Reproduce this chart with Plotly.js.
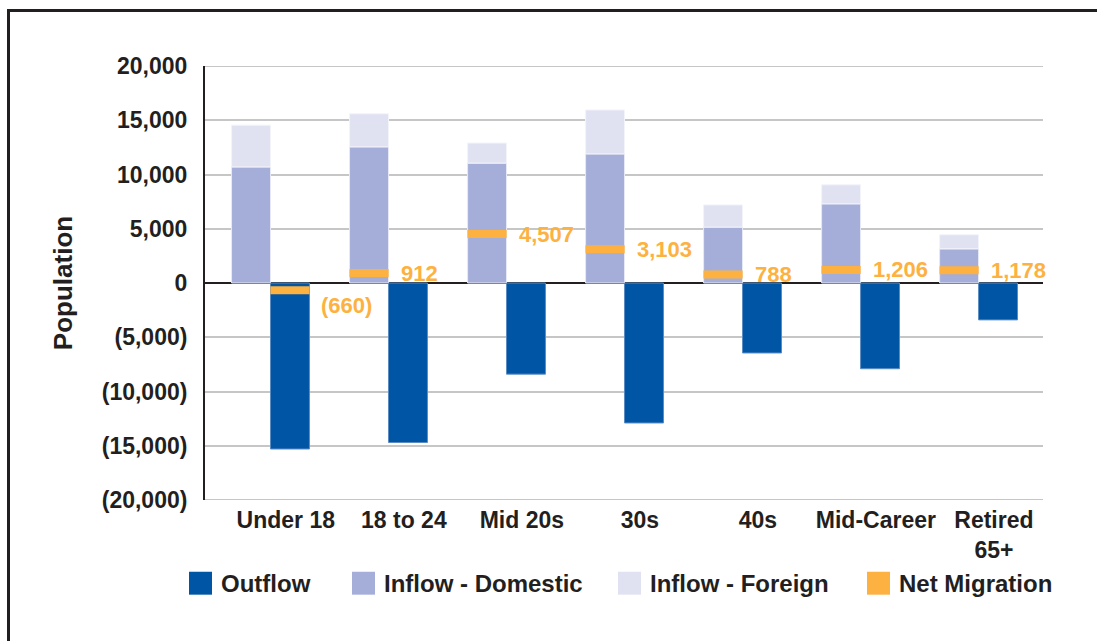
<!DOCTYPE html>
<html>
<head>
<meta charset="utf-8">
<script src="https://cdn.plot.ly/plotly-3.0.1.min.js"></script>
<style>
  html, body { margin: 0; padding: 0; background: #ffffff; overflow: hidden; }
  #wrap { position: relative; width: 1097px; height: 641px; }
  #chart { position: absolute; left: 0; top: 0; width: 1097px; height: 641px; }
  #frame { position: absolute; left: 7px; top: 9px; width: 1200px; height: 800px;
           border-left: 3px solid #231f20; border-top: 3px solid #231f20; pointer-events: none; }
</style>
</head>
<body>
<div id="wrap">
  <div id="chart"></div>
  <div id="frame"></div>
</div>
<script>
// ---- data ----
const categories = ["Under 18", "18 to 24", "Mid 20s", "30s", "40s", "Mid-Career", "Retired<br>65+"];
const inflowDomestic = [10700, 12550, 11050, 11900, 5150, 7300, 3150];
const inflowForeign  = [3850, 3050, 1850, 4050, 2050, 1750, 1300];
const outflow        = [-15300, -14700, -8400, -12900, -6450, -7900, -3400];
const netMigration   = [-660, 912, 4507, 3103, 788, 1206, 1178];
const yTickVals  = [-20000, -15000, -10000, -5000, 0, 5000, 10000, 15000, 20000];
const yTickText  = ["(20,000)", "(15,000)", "(10,000)", "(5,000)", "0", "5,000", "10,000", "15,000", "20,000"];
const seriesNames = ["Outflow", "Inflow - Domestic", "Inflow - Foreign", "Net Migration"];

// ---- styles ----
const C_OUT = "#0055a5", C_DOM = "#a4aed9", C_FOR = "#e0e2f1", C_NET = "#fdb140", C_TXT = "#231f20";
const C_GRID = "#c6c6c6";
const FONT = "Liberation Sans, Arial, Helvetica, sans-serif";
const BW = 0.33;

const idx = categories.map((_, i) => i);
const fmt = v => {
  const s = Math.abs(v).toLocaleString("en-US");
  return v < 0 ? "(" + s + ")" : s;
};

const traces = [
  { type: "bar", x: idx, y: inflowDomestic, offset: -BW, width: BW, name: seriesNames[1],
    marker: { color: C_DOM, line: { color: "#e6e9f5", width: 1 } }, showlegend: false, hoverinfo: "y" },
  { type: "bar", x: idx, y: inflowForeign, base: inflowDomestic, offset: -BW, width: BW, name: seriesNames[2],
    marker: { color: C_FOR, line: { color: "#f3f4fa", width: 1 } }, showlegend: false, hoverinfo: "y" },
  { type: "bar", x: idx, y: outflow, offset: 0, width: BW, name: seriesNames[0],
    marker: { color: C_OUT, line: { color: "#5a8cc4", width: 1 } }, showlegend: false, hoverinfo: "y" },
  { type: "scatter", mode: "markers", name: seriesNames[3], showlegend: false,
    x: netMigration.map((v, i) => v < 0 ? i + BW / 2 : i - BW / 2), y: netMigration,
    marker: { symbol: "line-ew", size: 28, color: C_NET, line: { color: C_NET, width: 8 } }, hoverinfo: "y" }
];

// net migration labels
const annotations = netMigration.map((v, i) => v < 0
  ? { x: i + BW, y: v, xref: "x", yref: "y", text: fmt(v), showarrow: false,
      xanchor: "left", yanchor: "top", xshift: 10, yshift: -1,
      font: { family: FONT, size: 22, color: C_NET, weight: "bold" } }
  : { x: i, y: v, xref: "x", yref: "y", text: fmt(v), showarrow: false,
      xanchor: "left", yanchor: "middle", xshift: 10,
      font: { family: FONT, size: 22, color: C_NET, weight: "bold" } });

// gridlines at the range ends (Plotly skips them at the plot edges)
const yMin = yTickVals[0], yMax = yTickVals[yTickVals.length - 1];
const shapes = [yMin, yMax].map(v => ({
  type: "line", xref: "paper", yref: "y", x0: 0, x1: 1, y0: v, y1: v,
  line: { color: C_GRID, width: 2 }, layer: "below"
}));

// custom legend (large square swatches)
const L = 205, W = 838, T = 65.5, H = 435.5;
const px2x = p => (p - L) / W;
const py2y = p => (T + H - p) / H;
const legendColors = [C_OUT, C_DOM, C_FOR, C_NET];
const legendLeft = [189, 352, 618, 867];
seriesNames.forEach((n, k) => {
  shapes.push({ type: "rect", xref: "paper", yref: "paper",
    x0: px2x(legendLeft[k]), x1: px2x(legendLeft[k] + 23),
    y0: py2y(573), y1: py2y(596), fillcolor: legendColors[k], line: { width: 0 } });
  annotations.push({ xref: "paper", yref: "paper", x: px2x(legendLeft[k] + 30), y: py2y(585),
    xanchor: "left", yanchor: "middle", showarrow: false, text: n,
    font: { family: FONT, size: 24, color: C_TXT, weight: "bold" } });
});

const layout = {
  width: 1097, height: 641,
  margin: { l: 205, r: 54, t: 65.5, b: 140.5 },
  paper_bgcolor: "#ffffff", plot_bgcolor: "#ffffff",
  barmode: "overlay",
  showlegend: false,
  font: { family: FONT, color: C_TXT },
  xaxis: {
    range: [-0.555, 6.546], tickvals: idx.map(i => i + 0.13), ticktext: categories,
    showgrid: false, zeroline: false, showline: false, ticks: "",
    tickfont: { family: FONT, size: 23, color: C_TXT, weight: "bold" }, ticklabelstandoff: 4
  },
  yaxis: {
    range: [yMin, yMax], tickvals: yTickVals, ticktext: yTickText,
    showgrid: true, gridcolor: C_GRID, gridwidth: 2,
    zeroline: true, zerolinecolor: C_TXT, zerolinewidth: 2,
    showline: true, linecolor: C_TXT, linewidth: 2, ticks: "",
    tickfont: { family: FONT, size: 23, color: C_TXT, weight: "bold" }, ticklabelstandoff: 11,
    title: { text: "Population", font: { family: FONT, size: 26, color: C_TXT, weight: "bold" }, standoff: 22 }
  },
  shapes: shapes,
  annotations: annotations
};

Plotly.newPlot("chart", traces, layout, { displayModeBar: false, staticPlot: true });
</script>
</body>
</html>
